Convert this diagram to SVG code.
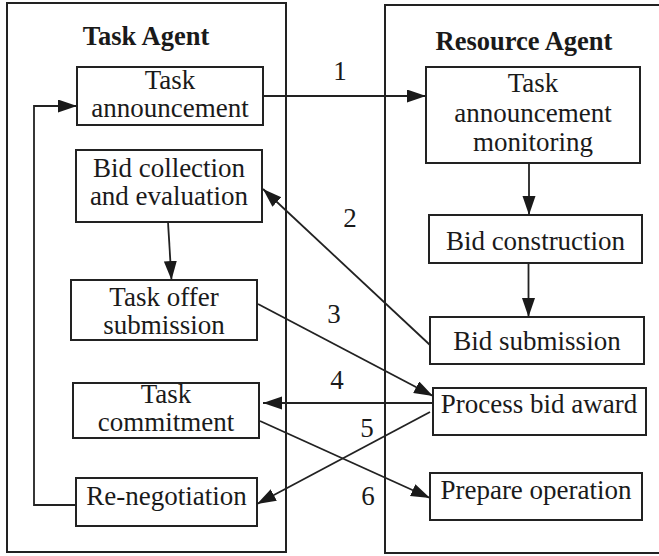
<svg xmlns="http://www.w3.org/2000/svg" width="659" height="556" viewBox="0 0 659 556">
<style>
.frame{fill:none;stroke:#222;stroke-width:2}
.box{fill:#fff;stroke:#222;stroke-width:2}
.t{font-family:"Liberation Serif","Times New Roman",serif;font-size:27px;fill:#1a1a1a;text-anchor:middle}
.title{font-family:"Liberation Serif","Times New Roman",serif;font-size:26.5px;font-weight:bold;fill:#1a1a1a;text-anchor:middle}
.c{fill:none;stroke:#222;stroke-width:1.8}
</style>
<defs>
<marker id="ah" markerUnits="userSpaceOnUse" markerWidth="20" markerHeight="14" refX="19" refY="6.5" orient="auto">
<path d="M0,0 L19,6.5 L0,13 z" fill="#1a1a1a"/>
</marker>
</defs>
<rect width="659" height="556" fill="#fff"/>
<g id="task-agent">
<rect class="frame" x="7" y="3" width="279" height="549"/>
<text class="title" x="146" y="45">Task Agent</text>
</g>
<g id="resource-agent">
<rect class="frame" x="385" y="5" width="290" height="548"/>
<text class="title" x="524" y="50">Resource Agent</text>
</g>
<g id="task-announcement">
<rect class="box" x="77" y="67" width="186" height="58"/>
<text class="t" x="170" y="89">Task</text>
<text class="t" x="170" y="117">announcement</text>
</g>
<g id="bid-collection">
<rect class="box" x="76" y="150" width="186" height="72"/>
<text class="t" x="169" y="177">Bid collection</text>
<text class="t" x="169" y="205">and evaluation</text>
</g>
<g id="task-offer">
<rect class="box" x="71" y="280" width="186" height="60"/>
<text class="t" x="164" y="306">Task offer</text>
<text class="t" x="164" y="334">submission</text>
</g>
<g id="task-commitment">
<rect class="box" x="73" y="383" width="186" height="55"/>
<text class="t" x="166" y="403">Task</text>
<text class="t" x="166" y="431">commitment</text>
</g>
<g id="re-negotiation">
<rect class="box" x="76" y="478" width="181" height="48"/>
<text class="t" x="166.5" y="505">Re-negotiation</text>
</g>
<g id="task-announcement-monitoring">
<rect class="box" x="426" y="67" width="214" height="96"/>
<text class="t" x="533" y="92">Task</text>
<text class="t" x="533" y="122">announcement</text>
<text class="t" x="533" y="151">monitoring</text>
</g>
<g id="bid-construction">
<rect class="box" x="429" y="215" width="213" height="48"/>
<text class="t" x="535.5" y="250">Bid construction</text>
</g>
<g id="bid-submission">
<rect class="box" x="430" y="317" width="214" height="47"/>
<text class="t" x="537" y="350">Bid submission</text>
</g>
<g id="process-bid-award">
<rect class="box" x="433" y="388" width="213" height="47"/>
<text class="t" x="539" y="413">Process bid award</text>
</g>
<g id="prepare-operation">
<rect class="box" x="430" y="473" width="212" height="47"/>
<text class="t" x="536" y="499">Prepare operation</text>
</g>
<g id="connectors">
<line class="c" x1="263" y1="96" x2="426" y2="96" marker-end="url(#ah)"/>
<line class="c" x1="529" y1="163" x2="529" y2="215" marker-end="url(#ah)"/>
<line class="c" x1="528.5" y1="263" x2="528.5" y2="317" marker-end="url(#ah)"/>
<line class="c" x1="168" y1="222" x2="171.5" y2="280" marker-end="url(#ah)"/>
<line class="c" x1="430" y1="345" x2="263" y2="189" marker-end="url(#ah)"/>
<line class="c" x1="258" y1="304" x2="433" y2="396" marker-end="url(#ah)"/>
<line class="c" x1="433" y1="403" x2="263" y2="403" marker-end="url(#ah)"/>
<line class="c" x1="430" y1="412" x2="257" y2="504" marker-end="url(#ah)"/>
<line class="c" x1="260" y1="421" x2="430" y2="498" marker-end="url(#ah)"/>
<polyline class="c" points="76,505 34,505 34,106 77,106" marker-end="url(#ah)"/>
<text class="t" x="340" y="80">1</text>
<text class="t" x="350" y="227">2</text>
<text class="t" x="334" y="323">3</text>
<text class="t" x="337" y="389">4</text>
<text class="t" x="367" y="437">5</text>
<text class="t" x="368" y="505">6</text>
</g>
</svg>
